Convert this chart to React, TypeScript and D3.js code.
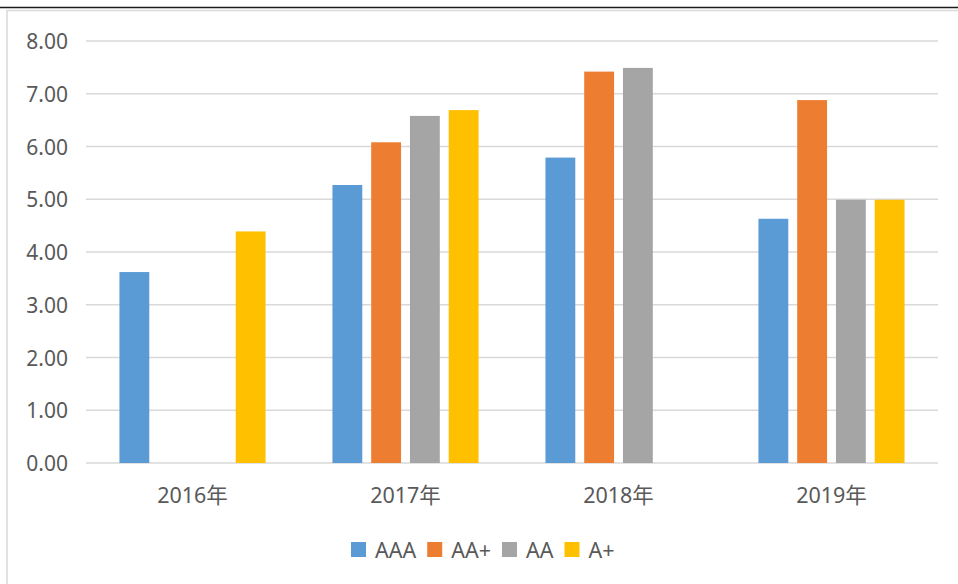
import * as d3 from 'd3';
import { useEffect, useRef } from 'react';

const categories = ['2016年', '2017年', '2018年', '2019年'];
const seriesNames = ['AAA', 'AA+', 'AA', 'A+'];
const seriesColors = ['#5B9BD5', '#ED7D31', '#A5A5A5', '#FFC000'];
// one array per series, values per year (null = no bar)
const aaa = [3.62, 5.27, 5.79, 4.63];
const aaPlus = [null, 6.08, 7.42, 6.88];
const aa = [null, 6.58, 7.49, 4.99];
const aPlus = [4.39, 6.69, null, 4.99];
const seriesValues = [aaa, aaPlus, aa, aPlus];
const yTicks = [0, 1, 2, 3, 4, 5, 6, 7, 8];

const svgWidth = 958,
	svgHeight = 584;
const plot = { left: 86, right: 938, top: 41, bottom: 463 };
const font = '"Noto Sans", "Noto Sans CJK SC", sans-serif';
const textColor = '#595959';

export default function App() {
	const svgRef = useRef<SVGSVGElement>(null);

	useEffect(() => {
		if (!svgRef.current) return;
		const svg = d3.select(svgRef.current);
		svg.selectAll('*').remove();

		// top rule and chart frame
		svg.append('line')
			.attr('x1', 0).attr('x2', svgWidth).attr('y1', 7.5).attr('y2', 7.5)
			.attr('stroke', '#1a1a1a').attr('stroke-width', 1.5);
		svg.append('rect')
			.attr('x', 7).attr('y', 10.5).attr('width', svgWidth).attr('height', svgHeight)
			.attr('fill', 'white').attr('stroke', '#d9d9d9').attr('stroke-width', 1.5);

		const x0 = d3.scaleBand().domain(categories).range([plot.left, plot.right]);
		const groupPad = x0.bandwidth() * 0.157;
		const x1 = d3
			.scaleBand()
			.domain(seriesNames)
			.range([groupPad, x0.bandwidth() - groupPad])
			.paddingInner(0.23);
		const y = d3.scaleLinear().domain([0, 8]).range([plot.bottom, plot.top]);

		// grid + y labels
		const grid = svg.append('g');
		yTicks.forEach((t) => {
			grid.append('line')
				.attr('x1', plot.left).attr('x2', plot.right)
				.attr('y1', y(t)).attr('y2', y(t))
				.attr('stroke', '#d9d9d9').attr('stroke-width', 1.5);
			grid.append('text')
				.attr('x', 68).attr('y', y(t))
				.attr('text-anchor', 'end').attr('dominant-baseline', 'central')
				.attr('font-family', font).attr('font-size', 21).attr('fill', textColor)
				.text(t.toFixed(2));
		});

		// bars
		seriesValues.forEach((vals, si) => {
			svg.append('g')
				.selectAll('rect')
				.data(vals.map((v, i) => ({ v, c: categories[i] })).filter((d) => d.v !== null))
				.join('rect')
				.attr('x', (d) => x0(d.c)! + x1(seriesNames[si])!)
				.attr('y', (d) => y(d.v as number))
				.attr('width', x1.bandwidth())
				.attr('height', (d) => y(0) - y(d.v as number))
				.attr('fill', seriesColors[si]);
		});

		// x labels
		categories.forEach((c) => {
			svg.append('text')
				.attr('x', x0(c)! + x0.bandwidth() / 2).attr('y', 494)
				.attr('text-anchor', 'middle').attr('dominant-baseline', 'central')
				.attr('font-family', font).attr('font-size', 21.5).attr('fill', textColor)
				.text(c);
		});

		// legend
		const legend = svg.append('g');
		let lx = 351;
		seriesNames.forEach((name, i) => {
			legend.append('rect')
				.attr('x', lx).attr('y', 542).attr('width', 15).attr('height', 15)
				.attr('fill', seriesColors[i]);
			const t = legend.append('text')
				.attr('x', lx + 24).attr('y', 549.5)
				.attr('dominant-baseline', 'central')
				.attr('font-family', font).attr('font-size', 21.5).attr('fill', textColor)
				.text(name);
			lx += 24 + (t.node() as SVGTextElement).getComputedTextLength() + 11;
		});
	}, []);

	return (
		<svg
			ref={svgRef}
			width={svgWidth}
			height={svgHeight}
			viewBox={`0 0 ${svgWidth} ${svgHeight}`}
			style={{ position: 'absolute', left: 0, top: 0, background: 'white' }}
		/>
	);
}
